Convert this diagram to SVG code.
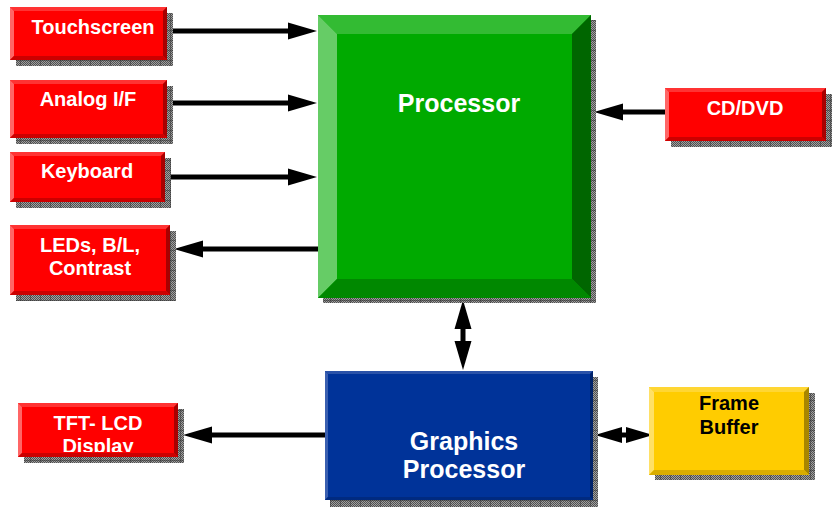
<svg xmlns="http://www.w3.org/2000/svg" width="835" height="507" viewBox="0 0 835 507">
<style>
text{font-family:"Liberation Sans",Arial,sans-serif;font-weight:bold;text-anchor:middle}
.s{font-size:20px;fill:#fff}
.l{font-size:25px;fill:#fff}
.k{font-size:20px;fill:#000}
.rm{fill:#ff0000}.rt{fill:#ff3333}.rl{fill:#ff6666}.rb{fill:#cc0000}.rr{fill:#a80000}
.gm{fill:#00aa00}.gt{fill:#33bb33}.gl{fill:#66cc66}.gb{fill:#008800}.gr{fill:#006600}
.bm{fill:#003399}.bt{fill:#2a52a8}.bl{fill:#3a5fb0}.bb{fill:#002a80}.br{fill:#00226a}
.ym{fill:#ffcc00}.yt{fill:#ffd633}.yl{fill:#ffe066}.yb{fill:#d9ad00}.yr{fill:#a88600}
.sh{fill:url(#chk)}
.gd{fill:url(#grid)}
.ln{stroke:#000;stroke-width:5;fill:none}
</style>
<defs>
<pattern id="chk" width="2" height="2" patternUnits="userSpaceOnUse">
<rect width="2" height="2" fill="#a0a0a0"/>
<rect width="1" height="1" fill="#505050"/>
<rect x="1" y="1" width="1" height="1" fill="#505050"/>
</pattern>
<pattern id="grid" width="10" height="10" patternUnits="userSpaceOnUse">
<path d="M0,0H10M0,0V10" stroke="#333" stroke-width="1" fill="none"/>
</pattern>
<marker id="ah" viewBox="0 -9 29 18" markerWidth="29" markerHeight="18" refX="0" refY="0" markerUnits="userSpaceOnUse" orient="auto-start-reverse">
<path d="M0,-8.5L29,0L0,8.5z" fill="#000"/>
</marker>
<marker id="ah2" viewBox="0 -9 27 18" markerWidth="27" markerHeight="18" refX="0" refY="0" markerUnits="userSpaceOnUse" orient="auto-start-reverse">
<path d="M0,-8L27,0L0,8z" fill="#000"/>
</marker>
<clipPath id="tftclip"><rect x="22" y="407" width="152" height="45"/></clipPath>
</defs>
<rect width="835" height="507" fill="#fff"/>

<g id="connectors">
<path class="ln" d="M167,31H288" marker-end="url(#ah)"/>
<path class="ln" d="M167,103H288" marker-end="url(#ah)"/>
<path class="ln" d="M165,177H288" marker-end="url(#ah)"/>
<path class="ln" d="M318,249H203" marker-end="url(#ah)"/>
<path class="ln" d="M665,112H623" marker-end="url(#ah)"/>
<path class="ln" d="M325,435H212" marker-end="url(#ah)"/>
<path class="ln" d="M463,329V341" marker-start="url(#ah)" marker-end="url(#ah)"/>
<path class="ln" d="M622,435H626" marker-start="url(#ah2)" marker-end="url(#ah2)"/>
</g>

<g id="touchscreen">
<rect class="sh" x="16" y="13" width="157" height="53"/><rect class="gd" x="16" y="13" width="157" height="53"/>
<rect class="rm" x="10" y="7" width="157" height="53"/>
<polygon class="rt" points="10,7 167,7 163,11 14,11"/>
<polygon class="rl" points="10,7 14,11 14,56 10,60"/>
<polygon class="rr" points="167,7 167,60 163,56 163,11"/>
<polygon class="rb" points="10,60 167,60 163,56 14,56"/>
<text class="s" x="93" y="34">Touchscreen</text>
</g>

<g id="analog">
<rect class="sh" x="16" y="86" width="157" height="58"/><rect class="gd" x="16" y="86" width="157" height="58"/>
<rect class="rm" x="10" y="80" width="157" height="58"/>
<polygon class="rt" points="10,80 167,80 163,84 14,84"/>
<polygon class="rl" points="10,80 14,84 14,134 10,138"/>
<polygon class="rr" points="167,80 167,138 163,134 163,84"/>
<polygon class="rb" points="10,138 167,138 163,134 14,134"/>
<text class="s" x="88" y="106">Analog I/F</text>
</g>

<g id="keyboard">
<rect class="sh" x="16" y="158" width="155" height="50"/><rect class="gd" x="16" y="158" width="155" height="50"/>
<rect class="rm" x="10" y="152" width="155" height="50"/>
<polygon class="rt" points="10,152 165,152 161,156 14,156"/>
<polygon class="rl" points="10,152 14,156 14,198 10,202"/>
<polygon class="rr" points="165,152 165,202 161,198 161,156"/>
<polygon class="rb" points="10,202 165,202 161,198 14,198"/>
<text class="s" x="87" y="178">Keyboard</text>
</g>

<g id="leds">
<rect class="sh" x="16" y="231" width="160" height="70"/><rect class="gd" x="16" y="231" width="160" height="70"/>
<rect class="rm" x="10" y="225" width="160" height="70"/>
<polygon class="rt" points="10,225 170,225 166,229 14,229"/>
<polygon class="rl" points="10,225 14,229 14,291 10,295"/>
<polygon class="rr" points="170,225 170,295 166,291 166,229"/>
<polygon class="rb" points="10,295 170,295 166,291 14,291"/>
<text class="s" x="90" y="252">LEDs, B/L,</text>
<text class="s" x="90" y="275">Contrast</text>
</g>

<g id="cddvd">
<rect class="sh" x="671" y="94" width="161" height="53"/><rect class="gd" x="671" y="94" width="161" height="53"/>
<rect class="rm" x="665" y="88" width="161" height="53"/>
<polygon class="rt" points="665,88 826,88 822,92 669,92"/>
<polygon class="rl" points="665,88 669,92 669,137 665,141"/>
<polygon class="rr" points="826,88 826,141 822,137 822,92"/>
<polygon class="rb" points="665,141 826,141 822,137 669,137"/>
<text class="s" x="745" y="115">CD/DVD</text>
</g>

<g id="tftlcd">
<rect class="sh" x="24" y="409" width="160" height="54"/><rect class="gd" x="24" y="409" width="160" height="54"/>
<rect class="rm" x="18" y="403" width="160" height="54"/>
<polygon class="rt" points="18,403 178,403 174,407 22,407"/>
<polygon class="rl" points="18,403 22,407 22,453 18,457"/>
<polygon class="rr" points="178,403 178,457 174,453 174,407"/>
<polygon class="rb" points="18,457 178,457 174,453 22,453"/>
<g clip-path="url(#tftclip)">
<text class="s" x="98" y="430">TFT- LCD</text>
<text class="s" x="98" y="453">Display</text>
</g>
</g>

<g id="processor">
<rect class="sh" x="323" y="20" width="273" height="283"/><rect class="gd" x="323" y="20" width="273" height="283"/>
<rect class="gm" x="318" y="15" width="273" height="283"/>
<polygon class="gt" points="318,15 591,15 572,34 337,34"/>
<polygon class="gl" points="318,15 337,34 337,279 318,298"/>
<polygon class="gr" points="591,15 591,298 572,279 572,34"/>
<polygon class="gb" points="318,298 591,298 572,279 337,279"/>
<text class="l" x="459" y="112">Processor</text>
</g>

<g id="graphics">
<rect class="sh" x="330" y="377" width="268" height="130"/><rect class="gd" x="330" y="377" width="268" height="130"/>
<rect class="bm" x="325" y="371" width="268" height="129"/>
<polygon class="bt" points="325,371 593,371 590,374 328,374"/>
<polygon class="bl" points="325,371 328,374 328,497 325,500"/>
<polygon class="br" points="593,371 593,500 590,497 590,374"/>
<polygon class="bb" points="325,500 593,500 590,497 328,497"/>
<text class="l" x="464" y="450">Graphics</text>
<text class="l" x="464" y="478">Processor</text>
</g>

<g id="framebuffer">
<rect class="sh" x="655" y="393" width="160" height="87"/><rect class="gd" x="655" y="393" width="160" height="87"/>
<rect class="ym" x="649" y="387" width="160" height="88"/>
<polygon class="yt" points="649,387 809,387 804,392 654,392"/>
<polygon class="yl" points="649,387 654,392 654,470 649,475"/>
<polygon class="yr" points="809,387 809,475 804,470 804,392"/>
<polygon class="yb" points="649,475 809,475 804,470 654,470"/>
<text class="k" x="729" y="410">Frame</text>
<text class="k" x="729" y="434">Buffer</text>
</g>
</svg>
